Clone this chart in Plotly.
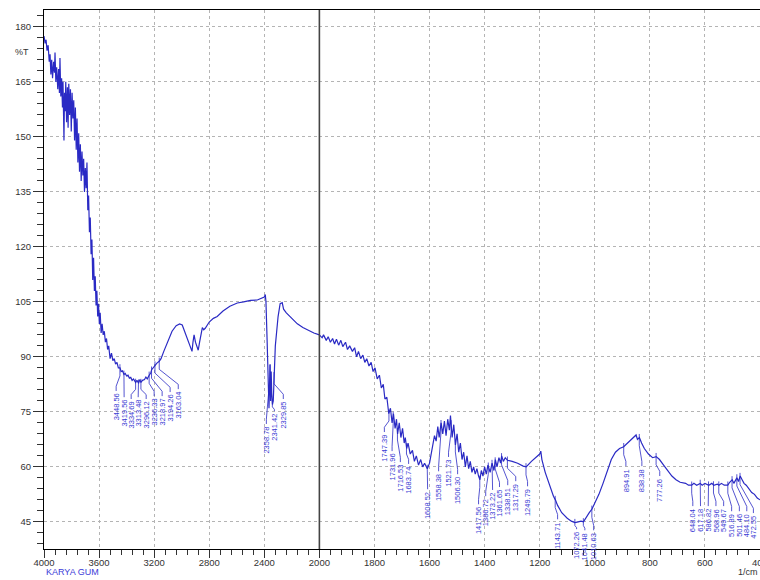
import numpy as np
import plotly.graph_objects as go

# ---- FTIR spectrum (wavenumber in 1/cm, transmittance in %T) ----
wavenumber = [
    4000, 3992, 3985, 3978, 3970, 3962, 3956, 3950, 3944, 3938, 3930, 3924, 3920, 3914, 3908,
    3900, 3894, 3888, 3884, 3878, 3872, 3866, 3862, 3858, 3855, 3851, 3846, 3842, 3836, 3830,
    3825, 3820, 3814, 3808, 3802, 3796, 3790, 3784, 3778, 3772, 3766, 3760, 3754, 3748, 3742,
    3736, 3730, 3724, 3718, 3712, 3706, 3700, 3694, 3688, 3682, 3676, 3670, 3664, 3658, 3652,
    3646, 3640, 3634, 3628, 3622, 3616, 3610, 3604, 3598, 3592, 3585, 3578, 3570, 3562, 3554,
    3546, 3538, 3530, 3520, 3510, 3500, 3490, 3480, 3470, 3460, 3448, 3440, 3430, 3419, 3410,
    3400, 3390, 3380, 3370, 3360, 3350, 3334, 3325, 3313, 3305, 3296, 3285, 3270, 3260, 3250,
    3236, 3225, 3218, 3205, 3194, 3180, 3163, 3150, 3130, 3110, 3090, 3070, 3040, 3015, 2996,
    2980, 2965, 2950, 2935, 2925, 2918, 2910, 2900, 2890, 2880, 2870, 2858, 2850, 2840, 2829,
    2800, 2770, 2742, 2700, 2650, 2596, 2550, 2500, 2451, 2420, 2400, 2393, 2388, 2380, 2372,
    2366, 2362, 2358, 2354, 2350, 2346, 2341, 2335, 2329, 2320, 2300, 2285, 2270, 2260, 2240,
    2200, 2160, 2120, 2080, 2040, 2000,
    1990, 1985, 1975, 1968, 1960, 1952, 1945, 1938, 1930, 1922, 1915, 1905, 1898, 1890, 1880,
    1872, 1865, 1858, 1850, 1842, 1835, 1828, 1820, 1812, 1805, 1798, 1790, 1782, 1775, 1768,
    1762, 1755, 1748, 1742, 1736, 1731, 1725, 1720, 1716, 1710, 1704, 1698, 1692, 1688, 1683,
    1678, 1670, 1662, 1655, 1648, 1640, 1632, 1625, 1618, 1608, 1600, 1594, 1588, 1582, 1576,
    1570, 1565, 1558, 1552, 1546, 1540, 1534, 1528, 1524, 1518, 1512, 1506, 1500, 1494, 1488,
    1482, 1476, 1470, 1464, 1458, 1452, 1446, 1440, 1434, 1428, 1422, 1417, 1412, 1406, 1400,
    1394, 1388, 1380, 1373, 1366, 1361, 1355, 1348, 1342, 1338, 1332, 1325, 1317, 1300, 1280,
    1260, 1249, 1230, 1210, 1200, 1196, 1192, 1180, 1165, 1150, 1143, 1135, 1120, 1100, 1085,
    1072, 1060, 1050, 1041, 1030, 1020, 1010, 1000, 985, 970, 955, 940, 925, 910, 895,
    880, 865, 850, 845, 838, 830, 820, 805, 790, 777, 765, 750, 735, 720, 705,
    690, 670, 660, 648, 640, 630, 617, 610, 600, 586, 575, 568, 555, 549, 540,
    530, 517, 510, 501, 495, 484, 478, 472, 465, 458, 450, 440, 430, 420, 410,
    400,
]
transmittance = [
    177.5, 175.5, 176.5, 173.5, 175.0, 170.5, 172.5, 167.0, 171.0, 166.0, 170.5, 167.5, 173.0, 165.0, 169.0,
    163.0, 168.5, 162.0, 171.5, 161.0, 166.0, 158.0, 165.0, 155.0, 149.0, 162.0, 157.0, 165.0, 154.0, 163.5,
    152.5, 164.5, 156.0, 163.0, 151.5, 162.0, 155.0, 160.0, 149.0, 158.0, 146.5, 155.0, 143.0, 151.0, 140.5,
    148.0, 138.0, 146.0, 139.5, 144.0, 135.0, 141.5, 136.0, 143.0, 130.0, 134.0, 124.0, 128.0, 118.0, 122.0,
    111.0, 117.0, 108.0, 112.0, 104.0, 108.0, 101.0, 104.5, 99.0, 102.0, 96.5, 99.0, 96.0, 97.0, 94.0,
    95.0, 92.0, 93.0, 89.5, 91.0, 89.0, 89.5, 88.0, 88.5, 87.0, 87.0, 86.0, 86.2, 85.2, 85.5,
    84.8, 85.0, 84.2, 84.4, 83.6, 84.0, 83.0, 83.6, 82.8, 83.8, 83.0, 83.6, 83.8, 84.5, 84.0,
    85.0, 85.6, 86.5, 87.2, 87.8, 88.3, 88.8, 89.5, 91.5, 93.5, 95.5, 97.0, 98.5, 99.0, 98.7,
    97.0, 95.5, 94.0, 92.5, 91.5, 94.0, 96.0, 94.0, 92.5, 91.8, 94.0, 97.0, 98.0, 97.4, 97.8,
    99.5, 100.5, 101.0, 102.5, 103.8, 104.7, 105.0, 105.4, 105.5, 106.0, 106.3, 107.0, 105.0, 95.0, 80.0,
    76.0, 82.0, 88.0, 78.0, 86.0, 80.0, 77.0, 78.0, 86.0, 93.0, 101.0, 104.5, 104.8, 103.0, 102.0,
    100.5, 99.0, 98.0, 97.2, 96.5, 96.0,
    95.2, 96.0, 94.5, 95.5, 94.0, 95.0, 93.5, 94.8, 93.2, 94.5, 92.8, 94.0, 92.0, 93.0, 91.5,
    92.5, 90.0, 91.5, 89.5, 90.5, 88.5, 89.5, 87.5, 88.5, 86.0, 87.0, 84.0, 85.0, 81.5, 82.5,
    78.5, 79.0, 74.5, 76.0, 72.0, 74.5, 70.5, 73.0, 69.0, 72.0, 68.0, 70.5, 66.5, 68.0, 65.0,
    66.5, 63.5, 64.5, 61.5, 63.0, 60.5, 62.0, 60.0, 61.0, 59.5, 61.0, 63.5, 66.0, 68.5, 67.0,
    71.0, 68.0, 72.0, 69.0, 72.5, 68.5, 73.0, 70.0, 74.0, 68.0, 71.5, 66.0, 69.0, 64.0, 66.5,
    62.0, 64.0, 60.0, 63.0, 59.5, 61.5, 58.5, 60.0, 58.0, 59.5, 57.5, 56.5, 59.0, 57.5, 60.0,
    58.0, 60.5, 58.5, 61.0, 59.0, 62.0, 60.0, 62.5, 61.0, 63.0, 61.5, 62.5, 61.8, 61.5, 61.0,
    60.2, 60.0, 61.5, 63.0, 63.5, 64.3, 62.0, 58.5, 55.0, 52.0, 51.0, 49.5, 47.5, 46.0, 45.2,
    44.8, 45.0, 45.2, 45.0, 46.5, 47.5, 48.5, 50.0, 52.5, 55.5, 59.0, 62.0, 64.0, 65.0, 65.5,
    66.5, 67.5, 68.7, 67.5, 68.0, 66.5, 65.0, 63.5, 62.5, 62.8, 62.0, 60.5, 59.0, 57.5, 56.5,
    55.8, 55.5, 55.0, 55.0, 55.5, 55.0, 55.5, 55.0, 55.5, 55.0, 55.5, 55.0, 55.3, 55.0, 55.5,
    55.0, 55.0, 55.8, 56.5, 55.5, 57.0, 56.0, 57.5, 56.5, 55.5, 55.0, 54.0, 53.0, 52.5, 51.5,
    51.0,
]

# ---- peak table ----
peak_labels = [
    "3448.56", "3419.56", "3334.69", "3313.48", "3296.12", "3236.33", "3218.97", "3194.26", "3163.04",
    "2358.78", "2341.42", "2329.85",
    "1747.39", "1731.96", "1716.53", "1683.74", "1608.52", "1558.38", "1521.73", "1506.30",
    "1417.56", "1386.72", "1373.22", "1361.65", "1338.51", "1317.29", "1249.79", "1143.71",
    "1072.26", "1041.48", "1010.63", "894.91", "838.38", "777.26",
    "648.04", "617.18", "586.82", "568.96", "549.67", "516.89", "501.46", "484.10", "472.55",
]
peak_wn = [float(s) for s in peak_labels]

# where each peak label is set (wavenumber of label column, %T at top of label)
label_x = [
    3476, 3418, 3367, 3316, 3258, 3200, 3142, 3084, 3025,
    2385, 2327, 2262,
    1764, 1736, 1706, 1676, 1607, 1567, 1531, 1498,
    1422, 1396, 1371, 1346, 1316, 1287, 1244, 1135,
    1066, 1036, 1004, 887, 829, 764,
    644, 616, 588, 560, 532, 503, 475, 448, 424,
]
label_top = [
    80.5, 78.8, 78.3, 78.8, 78.3, 79.1, 79.1, 80.2, 81.0,
    71.5, 75.0, 78.3,
    69.3, 64.1, 61.1, 60.6, 53.7, 58.6, 62.5, 57.8,
    49.6, 51.8, 53.5, 54.3, 54.8, 55.9, 54.5, 45.5,
    42.8, 42.5, 42.5, 60.0, 60.0, 57.3,
    49.1, 49.1, 49.1, 49.1, 49.1, 47.7, 47.7, 47.7, 47.2,
]

x_ticks_hi = [4000, 3600, 3200, 2800, 2400, 2000]
x_ticks_lo = [1800, 1600, 1400, 1200, 1000, 800, 600, 400]

LINE = "#2a2ac4"
LABEL = "#3a3ad4"
AXIS = "#333333"
GRID = "#b4b4b4"
FONT = "Liberation Sans"

wn = np.array(wavenumber, dtype=float)
tr = np.array(transmittance, dtype=float)
hi = wn >= 2000
lo = wn <= 2000

fig = go.Figure()
fig.add_trace(go.Scatter(x=wn[hi], y=tr[hi], mode="lines", xaxis="x", yaxis="y",
                         line=dict(color=LINE, width=1.2), showlegend=False))
fig.add_trace(go.Scatter(x=wn[lo], y=tr[lo], mode="lines", xaxis="x2", yaxis="y",
                         line=dict(color=LINE, width=1.2), showlegend=False))

# leader lines from each peak on the curve down to its label
order = np.argsort(wn)
lead = {"x": ([], []), "x2": ([], [])}
annotations = []
for text, pk, lx, lt in zip(peak_labels, peak_wn, label_x, label_top):
    yv = float(np.interp(pk, wn[order], tr[order]))
    gap = yv - lt
    ax = "x" if pk >= 2000 else "x2"
    xs, ys = lead[ax]
    xs += [pk, pk, lx, lx, None]
    ys += [yv + 1.0, yv - min(2.2, 0.4 * gap), lt + min(1.5, 0.3 * gap), lt + 0.2, None]
    annotations.append(dict(
        x=lx, y=lt, xref=ax, yref="y", text=text, showarrow=False, textangle=-90,
        xanchor="center", yanchor="top", font=dict(family=FONT, size=7.5, color=LABEL),
    ))
for ax, (xs, ys) in lead.items():
    fig.add_trace(go.Scatter(x=xs, y=ys, mode="lines", xaxis=ax, yaxis="y",
                             line=dict(color=LINE, width=0.8), showlegend=False,
                             hoverinfo="skip"))

PLOT_W = 716
PLOT_H = 539
annotations += [
    dict(x=-22 / PLOT_W, y=173.2, xref="paper", yref="y", text="%T", showarrow=False,
         xanchor="center", yanchor="middle", font=dict(family=FONT, size=9, color=AXIS)),
    dict(x=0.0, y=-30 / PLOT_H, xref="paper", yref="paper", text="KARYA GUM", showarrow=False,
         xanchor="left", yanchor="bottom", font=dict(family=FONT, size=9, color="#3c3cd8")),
    dict(x=1.0, y=-30 / PLOT_H, xref="paper", yref="paper", text="1/cm",
         showarrow=False, xanchor="right", yanchor="bottom",
         font=dict(family=FONT, size=9, color=AXIS)),
]

split = 5 / 13
common_x = dict(
    showline=True, linecolor="black", linewidth=1.2, mirror=True,
    ticks="outside", ticklen=8, tickcolor=AXIS, tickwidth=1, ticklabelstandoff=-4,
    showgrid=True, gridcolor=GRID, griddash="dot", gridwidth=1,
    zeroline=False, tickfont=dict(family=FONT, size=9.5, color=AXIS),
    anchor="y", automargin=False, ticklabeloverflow="allow",
)
fig.update_layout(
    width=760, height=580,
    margin=dict(l=44, r=0, t=10, b=31, autoexpand=False),
    paper_bgcolor="white", plot_bgcolor="white",
    showlegend=False,
    xaxis=dict(domain=[0, split], range=[4000, 2000], tickmode="array", tickvals=x_ticks_hi,
               minor=dict(dtick=80, tick0=0, ticks="outside", ticklen=5, tickcolor=AXIS,
                          showgrid=False),
               **common_x),
    xaxis2=dict(domain=[split, 1], range=[2000, 400], tickmode="array", tickvals=x_ticks_lo,
                minor=dict(dtick=40, tick0=0, ticks="outside", ticklen=5, tickcolor=AXIS,
                           showgrid=False),
                **common_x),
    yaxis=dict(range=[37.6, 184.6], tick0=0, dtick=15,
               showline=True, linecolor="black", linewidth=1.2,
               ticks="outside", ticklen=10, tickcolor=AXIS, tickwidth=1,
               minor=dict(dtick=3, tick0=0, ticks="outside", ticklen=6, tickcolor=AXIS,
                          showgrid=False),
               showgrid=True, gridcolor=GRID, griddash="dot", gridwidth=1,
               zeroline=False, automargin=False,
               tickfont=dict(family=FONT, size=9.5, color=AXIS)),
    annotations=annotations,
    shapes=[dict(type="line", xref="paper", yref="paper", x0=split, x1=split, y0=0, y1=1,
                 line=dict(color="#444444", width=1.6))],
)

fig.write_html("out.html")
